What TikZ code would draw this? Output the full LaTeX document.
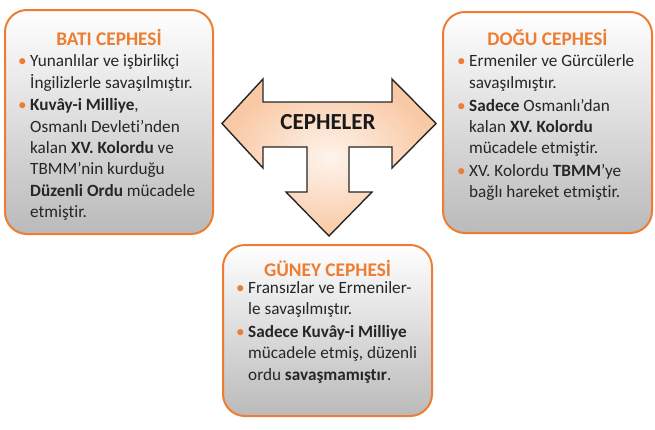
\documentclass[tikz,border=0pt]{standalone}
\usepackage{fontspec}
\setmainfont{Carlito}[Ligatures=NoCommon]
\usetikzlibrary{shadings}
\definecolor{orng}{RGB}{237,125,49}
\definecolor{txt}{RGB}{38,38,38}
\definecolor{pinner}{RGB}{254,244,236}
\definecolor{pouter}{RGB}{249,200,164}
\definecolor{boxbot}{RGB}{186,186,186}
\newlength{\bulw}
\setlength{\bulw}{12pt}
\newcommand{\bul}{\makebox[\bulw][l]{\textcolor{orng}{•}}}
\newcommand{\cnt}{\hspace*{\bulw}}
\tikzset{
  cbox/.style={draw=orng, line width=2pt, rounded corners=22pt, top color=white, bottom color=boxbot},
  ctitle/.style={text=orng, font=\fontsize{19.3}{22}\selectfont\bfseries, inner sep=0pt},
  cbody/.style={text=txt, anchor=base west, inner sep=0pt, font=\fontsize{17.2}{21.3}\selectfont},
  arrowshape/.style={draw=black!85, line width=1.4pt, line join=miter, inner color=pinner, outer color=pouter}
}
\begin{document}
\begin{tikzpicture}[x=1pt,y=-1pt]
\useasboundingbox (0,0) rectangle (655,429);
% boxes
\path[cbox] (5,10) rectangle (213,234);
\path[cbox] (443,12) rectangle (652,233);
\path[cbox] (223,245) rectangle (432,416);
% arrow
\path[arrowshape] (222,123.5) -- (263,79) -- (263,102) -- (392,102) -- (392,79) -- (436,123.5)
  -- (392,168) -- (392,147) -- (349,147) -- (349,192) -- (372,192) -- (329,236) -- (286,192)
  -- (307,192) -- (307,147) -- (263,147) -- (263,168) -- cycle;
\node[inner sep=0pt, text=black!90, font=\fontsize{23}{26}\selectfont\bfseries] (cep) at (328,122) {CEPHELER};
% titles
\node[ctitle] (bati) at (109,37) {BATI CEPHESİ};
\node[ctitle] (dogu) at (547.5,37) {DOĞU CEPHESİ};
\node[ctitle] (guney) at (327.5,268) {GÜNEY CEPHESİ};
% bodies
\node[cbody] (batitxt) at (18,66.7) {\begin{tabular}[t]{@{}l@{}}
\bul Yunanlılar ve işbirlikçi\\
\cnt İngilizlerle savaşılmıştır.\\[1.5pt]
\bul\textbf{Kuvây-i Milliye},\\
\cnt Osmanlı Devleti’nden\\
\cnt kalan \textbf{XV. Kolordu} ve\\
\cnt TBMM’nin kurduğu\\
\cnt\textbf{Düzenli Ordu} mücadele\\
\cnt etmiştir.
\end{tabular}};
\node[cbody] (dogutxt) at (457,66.7) {\begin{tabular}[t]{@{}l@{}}
\bul Ermeniler ve Gürcülerle\\
\cnt savaşılmıştır.\\[2pt]
\bul\textbf{Sadece} Osmanlı’dan\\
\cnt kalan \textbf{XV. Kolordu}\\
\cnt mücadele etmiştir.\\[1pt]
\bul XV. Kolordu \textbf{TBMM}’ye\\
\cnt bağlı hareket etmiştir.
\end{tabular}};
\node[cbody] (guneytxt) at (236,293) {\begin{tabular}[t]{@{}l@{}}
\bul Fransızlar ve Ermeniler-\\
\cnt le savaşılmıştır.\\[2pt]
\bul\textbf{Sadece Kuvây-i Milliye}\\
\cnt mücadele etmiş, düzenli\\
\cnt ordu \textbf{savaşmamıştır}.
\end{tabular}};
\end{tikzpicture}
\end{document}
